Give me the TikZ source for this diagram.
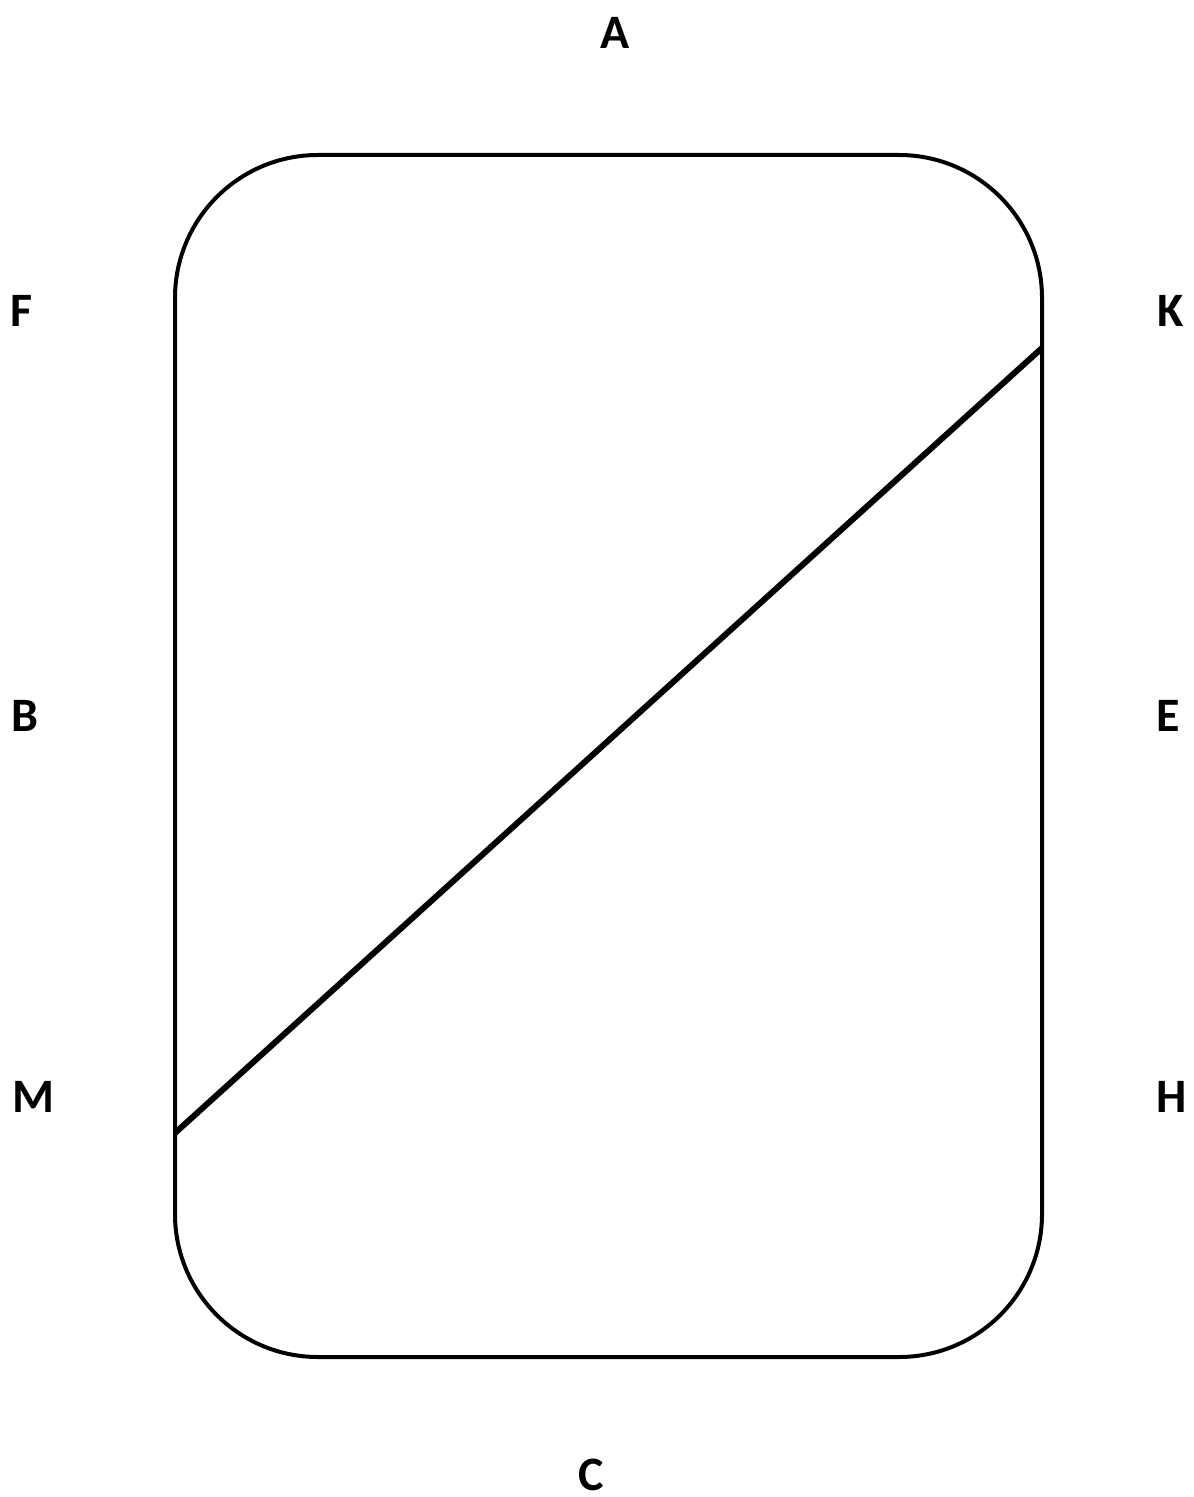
\documentclass[tikz,border=0pt]{standalone}
\usepackage{fontspec}
\setmainfont{Carlito}
\usepackage{tikz}

\begin{document}
\begin{tikzpicture}[x=0.5pt, y=-0.5pt, font=\fontsize{24}{28}\selectfont\bfseries]
  \useasboundingbox (0, 0) rectangle (1193, 1497);
  % the rounded frame, in pixel units of the sheet
  \draw[line width=2pt, rounded corners=71.5pt] (175, 155) rectangle (1042, 1357);

  % letters round the frame
  \foreach \n/\x/\y in {A/615/33, F/22/311, K/1171/311, B/25/716,
                        E/1168/716, M/33/1097, H/1172/1097, C/591/1475} {
    \node (lbl\n) at (\x, \y) {\n};
  }

  % the cut across the frame
  \coordinate (cutM) at (175, 1133);
  \coordinate (cutK) at (1042, 348);
  \draw[line width=3pt] (cutM) -- (cutK);
\end{tikzpicture}
\end{document}
